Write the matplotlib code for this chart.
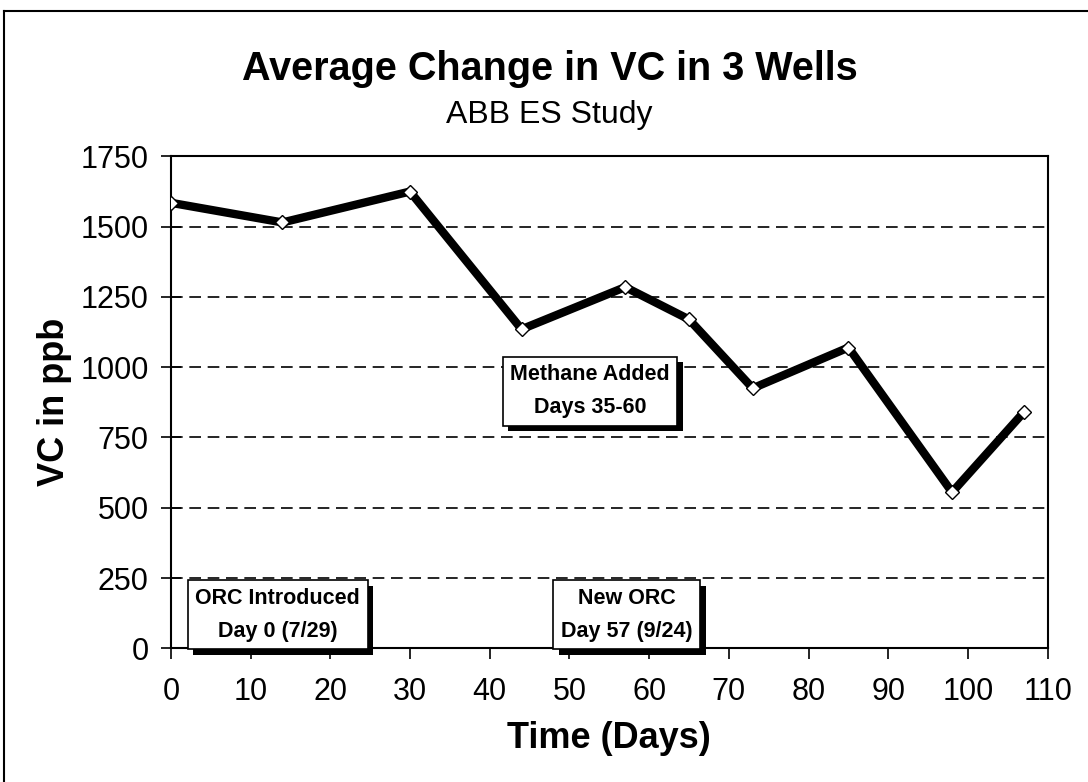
import matplotlib
matplotlib.use("Agg")
import matplotlib.pyplot as plt
import matplotlib.patheffects as pe
from matplotlib import font_manager
from matplotlib.lines import Line2D

# data
days = [0, 14, 30, 44, 57, 65, 73, 85, 98, 107]
vc_ppb = [1585, 1515, 1625, 1135, 1285, 1170, 925, 1070, 555, 840]

x_ticks = list(range(0, 111, 10))
y_ticks = list(range(0, 1751, 250))

notes = ["Methane Added\nDays 35-60", "ORC Introduced\nDay 0 (7/29)", "New ORC\nDay 57 (9/24)"]
note_days = [52.6, 13.4, 57.2]
note_vals = [915, 119, 119]

plt.rcParams['font.family'] = ['Liberation Sans', 'DejaVu Sans']

# the old Excel title looks condensed, use a narrow face if there is one
try:
    font_manager.findfont('Liberation Sans Narrow', fallback_to_default=False)
    title_font, title_size = 'Liberation Sans Narrow', 34
except ValueError:
    title_font, title_size = 'Liberation Sans', 28.5

fig = plt.figure(figsize=(10.88, 7.82), dpi=100)
ax = fig.add_axes([0.157, 0.171, 0.806, 0.629])

# gridlines (dashed, none at top)
for v in y_ticks[1:-1]:
    ax.axhline(v, color='black', lw=1.2, ls=(0, (7, 4)), zorder=1)

ax.plot(days, vc_ppb, color='black', lw=6, zorder=3, solid_joinstyle='miter')
ax.plot(days, vc_ppb, ls='none', marker='D', ms=7, mfc='white', mec='black', mew=1, zorder=4)

ax.set_xlim(0, 110)
ax.set_ylim(0, 1750)
ax.set_xticks(x_ticks)
ax.set_yticks(y_ticks)
ax.tick_params(axis='x', direction='out', length=8, width=1.2, labelsize=22, pad=13)
ax.tick_params(axis='y', direction='inout', length=14, width=1.2, labelsize=22, pad=9)
for s in ax.spines.values():
    s.set_linewidth(1.5)

ax.set_xlabel("Time (Days)", fontsize=26, fontweight='bold', labelpad=10)
ax.set_ylabel("VC in ppb", fontsize=26, fontweight='bold', labelpad=6)

fig.text(0.505, 0.912, "Average Change in VC in 3 Wells", ha='center', va='center',
         fontsize=title_size, fontweight='bold', family=[title_font, 'DejaVu Sans'])
fig.text(0.505, 0.853, "ABB ES Study", ha='center', va='center', fontsize=23)

for txt, dx, vy in zip(notes, note_days, note_vals):
    t = ax.text(dx, vy, txt, ha='center', va='center', fontsize=15.5, fontweight='bold',
                linespacing=1.75, zorder=5,
                bbox=dict(boxstyle='square,pad=0.35', fc='white', ec='black', lw=1.2))
    t.get_bbox_patch().set_path_effects([
        pe.SimplePatchShadow(offset=(4, -4), shadow_rgbFace='black', alpha=1),
        pe.Normal()])

# outer frame of the picture
fig.add_artist(Line2D([0.004, 0.004], [0, 0.986], color='black', lw=1.5))
fig.add_artist(Line2D([0.004, 1.0], [0.986, 0.986], color='black', lw=1.5))

fig.savefig("out.png", dpi=100)
